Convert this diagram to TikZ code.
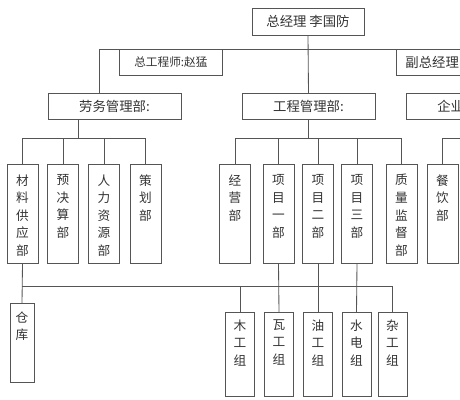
\documentclass[tikz,border=0pt]{standalone}
\usepackage{fontspec}
\setmainfont{Noto Sans CJK SC}
\usetikzlibrary{calc, positioning}
\definecolor{linec}{HTML}{555555}
\definecolor{txtc}{HTML}{333333}
\tikzset{
  post/.style={rectangle, draw=linec, line width=0.6pt, inner sep=0pt,
               minimum height=0.65cm, font=\fontsize{9.5}{11}\selectfont, text=txtc},
  dept/.style={rectangle, draw=linec, line width=0.6pt, inner sep=0pt,
               minimum width=0.775cm, minimum height=2.475cm,
               font=\fontsize{9}{12.5}\selectfont, text=txtc},
  grp/.style={dept, minimum width=0.725cm, minimum height=2.1cm},
  link/.style={draw=linec, line width=0.6pt},
}
\newcommand{\vt}[2][1.975cm]{\parbox[c][#1][t]{1.2em}{\centering #2}}

\begin{document}
\begin{tikzpicture}[x=0.025cm, y=-0.025cm]
  \clip (0,0) rectangle (460,400);
  % management
  \node[post, anchor=north, minimum width=2.8cm, minimum height=0.675cm] (gm) at (308,8) {总经理 李国防};
  \node[post, anchor=north west, minimum width=2.575cm, font=\fontsize{8.3}{10}\selectfont] (zgcs) at (119,49) {总工程师:赵猛};
  \node[post, anchor=north west, text width=2.2cm, inner xsep=0.225cm, align=left] (fzjl) at (396,49) {副总经理};
  % departments
  \node[post, anchor=north, minimum width=3.325cm] (lw) at (114.5,93) {劳务管理部:};
  \node[post, anchor=north, minimum width=3.325cm] (gc) at (308.5,93) {工程管理部:};
  \node[post, anchor=north, minimum width=3.325cm] (qy) at (472.5,93) {企业管理部:};
  % sections
  \node[dept, anchor=north] (cl) at (22.5,164) {\vt{材\\料\\供\\应\\部}};
  \node[dept, anchor=north] (yjs) at (63,164) {\vt{预\\决\\算\\部}};
  \node[dept, anchor=north] (rl) at (104,164) {\vt{人\\力\\资\\源\\部}};
  \node[dept, anchor=north] (ch) at (145.5,164) {\vt{策\\划\\部}};
  \node[dept, anchor=north] (jy) at (235,164) {\vt{经\\营\\部}};
  \node[dept, anchor=north] (xm1) at (278.5,164) {\vt{项\\目\\一\\部}};
  \node[dept, anchor=north] (xm2) at (318,164) {\vt{项\\目\\二\\部}};
  \node[dept, anchor=north] (xm3) at (357,164) {\vt{项\\目\\三\\部}};
  \node[dept, anchor=north] (zl) at (401.5,164) {\vt{质\\量\\监\\督\\部}};
  \node[dept, anchor=north] (cy) at (442.5,164) {\vt{餐\\饮\\部}};
  % groups
  \node[grp, anchor=north, minimum width=0.6cm, minimum height=1.975cm] (ck) at (22,303) {\vt[1.575cm]{仓\\库}};
  \node[grp, anchor=north] (mg) at (240,312) {\vt[1.75cm]{木\\工\\组}};
  \node[grp, anchor=north] (wg) at (279,312) {\vt[1.75cm]{瓦\\工\\组}};
  \node[grp, anchor=north] (yg) at (318,312) {\vt[1.75cm]{油\\工\\组}};
  \node[grp, anchor=north] (sd) at (356.5,312) {\vt[1.75cm]{水\\电\\组}};
  \node[grp, anchor=north] (zg) at (392.5,312) {\vt[1.75cm]{杂\\工\\组}};

  % connectors
  \coordinate (busa) at (0,49);
  \coordinate (busb) at (0,138);
  \coordinate (busc) at (0,286);
  \coordinate (lwup) at ($(lw.north)+(-15,0)$);
  \coordinate (lwdown) at ($(lw.south)+(-36,0)$);
  \draw[link] (gm.south) -- (gc.north);
  \draw[link] (lwup) |- (qy.north |- busa) -- (qy.north);
  \draw[link] (lwdown) -- (lwdown |- busb);
  \draw[link] (cl.north) |- (ch.north |- busb) -- (ch.north);
  \foreach \n in {yjs, rl}
    \draw[link] (\n.north) -- (\n.north |- busb);
  \draw[link] (gc.south) -- (gc.south |- busb);
  \draw[link] (jy.north) |- (zl.north |- busb) -- (zl.north);
  \foreach \n in {xm1, xm2, xm3}
    \draw[link] (\n.north) -- (\n.north |- busb);
  \draw[link] (qy.south) |- (cy.north |- busb) -- (cy.north);
  \draw[link] (cl.south) -- (ck.north);
  \draw[link] (ck.north |- busc) -- (zg.north |- busc) -- (zg.north);
  \draw[link] (mg.north) -- (mg.north |- busc);
  \foreach \a/\b in {xm1/wg, xm2/yg, xm3/sd}
    \draw[link] (\a.south) -- (\b.north);
\end{tikzpicture}
\end{document}
